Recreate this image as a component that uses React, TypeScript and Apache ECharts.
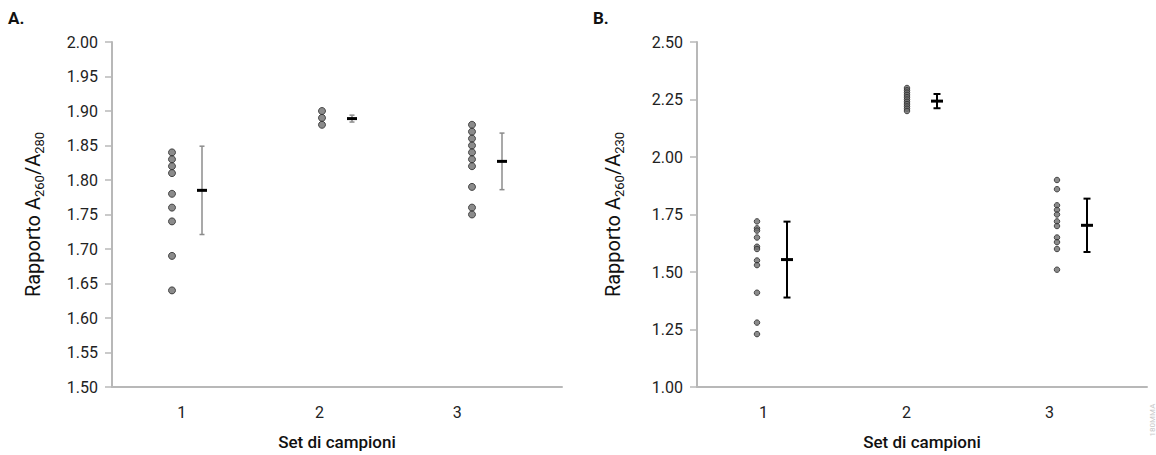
import React, { useEffect, useRef } from "react";
import * as echarts from "echarts";

// Panel A: A260/A280 ratios per sample set
const setsA1 = [1.84, 1.83, 1.82, 1.81, 1.78, 1.76, 1.74, 1.69, 1.64];
const setsA2 = [1.9, 1.89, 1.88];
const setsA3 = [1.88, 1.87, 1.86, 1.85, 1.84, 1.83, 1.82, 1.79, 1.76, 1.75];
const meanA = [1.785, 1.889, 1.827];
const sdA = [0.064, 0.005, 0.041];

// Panel B: A260/A230 ratios per sample set
const setsB1 = [1.72, 1.69, 1.68, 1.65, 1.61, 1.6, 1.55, 1.53, 1.41, 1.28, 1.23];
const setsB2 = [2.3, 2.29, 2.28, 2.27, 2.26, 2.25, 2.24, 2.23, 2.22, 2.21, 2.2];
const setsB3 = [1.9, 1.86, 1.79, 1.77, 1.75, 1.72, 1.7, 1.65, 1.63, 1.6, 1.51];
const meanB = [1.554, 2.243, 1.703];
const sdB = [0.165, 0.031, 0.116];

const categories = [1, 2, 3];
const categoryLabels = ["1", "2", "3"];
const yTicksA = { min: 1.5, max: 2.0, interval: 0.05 };
const yTicksB = { min: 1.0, max: 2.5, interval: 0.25 };

const FONT = "Roboto, 'Noto Sans', sans-serif";
const AXIS_GRAY = "#b8b8b8";

function pts(sets: number[][]) {
  const out: number[][] = [];
  sets.forEach((s, i) => s.forEach((v) => out.push([categories[i] - 0.1, v])));
  return out;
}
function bars(mean: number[], sd: number[]) {
  return mean.map((m, i) => [categories[i] + 0.1, m, m - sd[i], m + sd[i]]);
}

function errRender(stroke: string, lw: number, capW: number, meanW: number, meanLw: number) {
  return (params: any, api: any) => {
    const x = api.value(0);
    const pm = api.coord([x, api.value(1)]);
    const pl = api.coord([x, api.value(2)]);
    const ph = api.coord([x, api.value(3)]);
    const cx = pm[0];
    return {
      type: "group",
      children: [
        { type: "line", shape: { x1: cx, y1: ph[1], x2: cx, y2: pl[1] }, style: { stroke, lineWidth: lw } },
        { type: "line", shape: { x1: cx - capW / 2, y1: ph[1], x2: cx + capW / 2, y2: ph[1] }, style: { stroke, lineWidth: lw } },
        { type: "line", shape: { x1: cx - capW / 2, y1: pl[1], x2: cx + capW / 2, y2: pl[1] }, style: { stroke, lineWidth: lw } },
        { type: "line", shape: { x1: cx - meanW / 2, y1: pm[1], x2: cx + meanW / 2, y2: pm[1] }, style: { stroke: "#000", lineWidth: meanLw } },
      ],
    };
  };
}

function xAxis(gridIndex: number) {
  return {
    type: "value",
    gridIndex,
    min: 0.5,
    max: 3.5,
    axisLine: { show: true, lineStyle: { color: AXIS_GRAY, width: 2 } },
    axisTick: { show: false },
    splitLine: { show: false },
    axisLabel: { show: false },
    name: "Set di campioni",
    nameLocation: "middle",
    nameGap: 46,
    nameTextStyle: { fontSize: 17, fontWeight: 500, color: "#111", fontFamily: FONT },
  };
}

function labelAxis(gridIndex: number) {
  return {
    type: "category",
    gridIndex,
    data: categoryLabels,
    boundaryGap: true,
    axisLine: { show: false },
    axisTick: { show: false },
    splitLine: { show: false },
    axisLabel: { color: "#222", fontSize: 16, fontFamily: FONT, margin: 13 },
  };
}

function yAxis(gridIndex: number, t: any, sub: string, nameGap: number) {
  return {
    type: "value",
    gridIndex,
    min: t.min,
    max: t.max,
    interval: t.interval,
    axisLine: { show: true, lineStyle: { color: AXIS_GRAY, width: 2 } },
    axisTick: { show: true, length: 7, lineStyle: { color: AXIS_GRAY, width: 1.5 } },
    splitLine: { show: false },
    axisLabel: {
      color: "#222",
      fontSize: 16,
      fontFamily: FONT,
      margin: 14,
      formatter: (v: number) => v.toFixed(2),
    },
    name: `{a|Rapporto A}{s|260}{a|/A}{s|${sub}}`,
    nameLocation: "middle",
    nameGap,
    nameTextStyle: {
      rich: {
        a: { fontSize: 20, color: "#111", fontFamily: FONT, lineHeight: 26, verticalAlign: "middle" },
        s: { fontSize: 13, color: "#111", fontFamily: FONT, lineHeight: 13, verticalAlign: "bottom" },
      },
    },
  };
}

function hiddenY(gridIndex: number) {
  return { type: "value", gridIndex, show: false, min: 0, max: 1 };
}

export default function App() {
  const ref = useRef<HTMLDivElement>(null);
  useEffect(() => {
    const chart = echarts.init(ref.current!, undefined, { renderer: "svg" });
    chart.setOption({
      animation: false,
      backgroundColor: "#fff",
      grid: [
        { left: 112, right: 594, top: 42, bottom: 64 },
        { left: 697, right: 9, top: 42, bottom: 64 },
        { left: 113, right: 630, top: 42, bottom: 64 },
        { left: 692, right: 35, top: 42, bottom: 64 },
      ],
      xAxis: [xAxis(0), xAxis(1), labelAxis(2), labelAxis(3)],
      yAxis: [yAxis(0, yTicksA, "280", 66), yAxis(1, yTicksB, "230", 71), hiddenY(2), hiddenY(3)],
      graphic: [
        { type: "text", left: 8, top: 9, style: { text: "A.", fontSize: 17, fontWeight: "bold", fontFamily: FONT, fill: "#111" } },
        { type: "text", left: 593, top: 9, style: { text: "B.", fontSize: 17, fontWeight: "bold", fontFamily: FONT, fill: "#111" } },
        {
          type: "text",
          x: 1152,
          y: 420,
          rotation: Math.PI / 2,
          style: { text: "180MMA", fontSize: 8, fontFamily: FONT, fill: "#c8c8c8", align: "center", verticalAlign: "middle" },
        },
      ],
      series: [
        {
          type: "scatter",
          xAxisIndex: 0,
          yAxisIndex: 0,
          data: pts([setsA1, setsA2, setsA3]),
          symbolSize: 7,
          itemStyle: { color: "#6e6e6e", borderColor: "#2a2a2a", borderWidth: 1 },
        },
        {
          type: "custom",
          xAxisIndex: 0,
          yAxisIndex: 0,
          data: bars(meanA, sdA),
          encode: { x: 0, y: [1, 2, 3] },
          renderItem: errRender("#8c8c8c", 1.5, 5, 10, 3),
        },
        {
          type: "scatter",
          xAxisIndex: 1,
          yAxisIndex: 1,
          data: pts([setsB1, setsB2, setsB3]),
          symbolSize: 5.5,
          itemStyle: { color: "#6e6e6e", borderColor: "#2a2a2a", borderWidth: 1 },
        },
        {
          type: "custom",
          xAxisIndex: 1,
          yAxisIndex: 1,
          data: bars(meanB, sdB),
          encode: { x: 0, y: [1, 2, 3] },
          renderItem: errRender("#000", 2, 7, 12, 3),
        },
      ],
    });
    return () => chart.dispose();
  }, []);
  return <div ref={ref} style={{ position: "fixed", left: 0, top: 0, width: 1156, height: 455 }} />;
}
